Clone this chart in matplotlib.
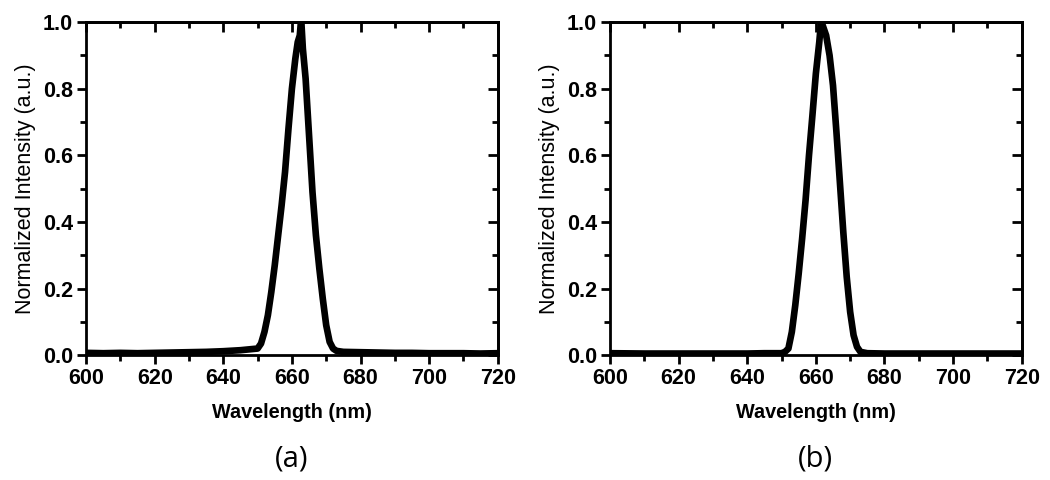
import matplotlib.pyplot as plt
from matplotlib.ticker import MultipleLocator

# spectrum (a)
wl_a = [600, 605, 610, 615, 620, 625, 630, 635, 640, 645, 648, 650, 651, 652, 653, 654,
        655, 656, 657, 658, 659, 660, 661, 661.7, 662.3, 662.7, 663.2, 664, 665, 666,
        667, 668, 669, 670, 671, 672, 673, 675, 680, 685, 690, 695, 700, 705, 710, 715, 720]
int_a = [0.007, 0.006, 0.007, 0.006, 0.007, 0.008, 0.009, 0.01, 0.012, 0.015, 0.018, 0.02,
         0.035, 0.07, 0.12, 0.19, 0.27, 0.36, 0.45, 0.55, 0.68, 0.80, 0.89, 0.94, 0.96,
         1.01, 0.92, 0.83, 0.66, 0.49, 0.36, 0.26, 0.17, 0.09, 0.04, 0.02, 0.013, 0.01,
         0.009, 0.008, 0.007, 0.007, 0.006, 0.006, 0.006, 0.005, 0.006]

# spectrum (b)
wl_b = [600, 610, 620, 630, 640, 645, 650, 651, 652, 653, 654, 655, 656, 657, 658, 659,
        660, 661, 661.5, 662, 663, 664, 665, 666, 667, 668, 669, 670, 671, 672, 673, 675,
        680, 690, 700, 710, 720]
int_b = [0.006, 0.005, 0.005, 0.005, 0.005, 0.006, 0.006, 0.01, 0.02, 0.07, 0.15, 0.245,
         0.35, 0.465, 0.60, 0.72, 0.845, 0.94, 1.0, 0.99, 0.96, 0.90, 0.81, 0.67, 0.52,
         0.37, 0.235, 0.13, 0.06, 0.025, 0.01, 0.006, 0.005, 0.005, 0.005, 0.005, 0.005]

panels = [(wl_a, int_a, '(a)'), (wl_b, int_b, '(b)')]
lefts = [0.082, 0.581]

fig = plt.figure(figsize=(10.5, 4.8), dpi=100)

for (wl, inten, tag), left in zip(panels, lefts):
    ax = fig.add_axes([left, 0.260, 0.392, 0.694])
    ax.plot(wl, inten, color='black', lw=4.8, solid_capstyle='butt')
    ax.set_xlim(600, 720)
    ax.set_ylim(0, 1.0)
    ax.xaxis.set_major_locator(MultipleLocator(20))
    ax.xaxis.set_minor_locator(MultipleLocator(10))
    ax.yaxis.set_major_locator(MultipleLocator(0.2))
    ax.yaxis.set_minor_locator(MultipleLocator(0.1))
    ax.yaxis.set_major_formatter(plt.FormatStrFormatter('%.1f'))
    for s in ax.spines.values():
        s.set_linewidth(2.0)
    ax.tick_params(which='major', direction='out', length=6.5, width=2.0,
                   labelsize=15.5, pad=3)
    ax.tick_params(which='minor', direction='out', length=4, width=2.0)
    for lab in ax.get_xticklabels() + ax.get_yticklabels():
        lab.set_family('Liberation Sans')
        lab.set_fontweight('bold')

    # mirrored ticks pointing inwards on top and right
    top = ax.secondary_xaxis('top')
    top.xaxis.set_major_locator(MultipleLocator(20))
    top.xaxis.set_minor_locator(MultipleLocator(10))
    top.tick_params(which='major', direction='in', length=7, width=2.0, labeltop=False)
    top.tick_params(which='minor', direction='in', length=4.5, width=2.0)
    top.spines['top'].set_linewidth(2.0)
    right = ax.secondary_yaxis('right')
    right.yaxis.set_major_locator(MultipleLocator(0.2))
    right.yaxis.set_minor_locator(MultipleLocator(0.1))
    right.tick_params(which='major', direction='in', length=7, width=2.0, labelright=False)
    right.tick_params(which='minor', direction='in', length=4.5, width=2.0)
    right.spines['right'].set_linewidth(2.0)

    ax.set_xlabel('Wavelength (nm)', family='Liberation Sans', fontweight='bold',
                  fontsize=14.3, labelpad=10)
    ax.set_ylabel('Normalized Intensity (a.u.)', family='Liberation Sans',
                  fontsize=15.5, labelpad=5)

    fig.text(left + 0.196, 0.044, tag, ha='center', va='center',
             family='Open Sans', fontsize=21)

fig.savefig('out.png', dpi=100, facecolor='white')
